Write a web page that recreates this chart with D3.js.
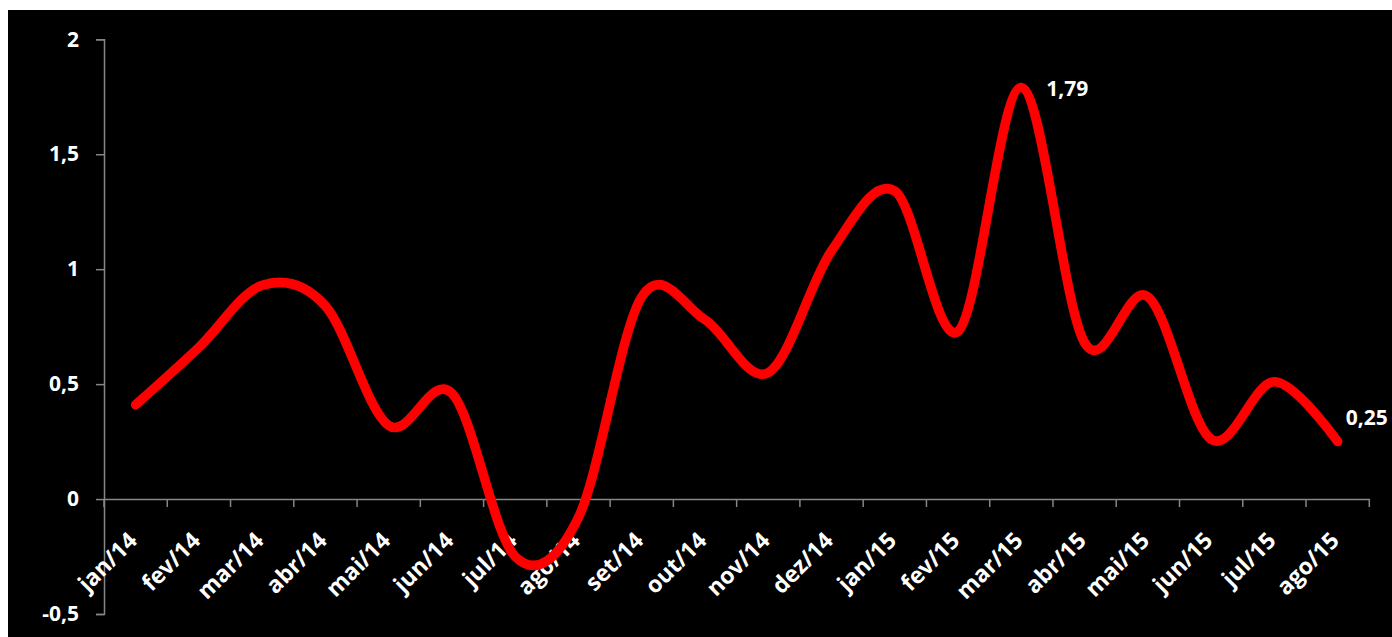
<!DOCTYPE html>
<html>
<head>
<meta charset="utf-8">
<script src="https://cdn.jsdelivr.net/npm/d3@7"></script>
<style>
  html, body { margin: 0; padding: 0; background: #ffffff; }
  svg { display: block; }
  text { font-family: "Open Sans", "DejaVu Sans", sans-serif; font-weight: bold; fill: #ffffff; }
</style>
</head>
<body>
<svg id="chart" width="1392" height="637"></svg>
<script>
const categories = ["jan/14","fev/14","mar/14","abr/14","mai/14","jun/14","jul/14","ago/14","set/14","out/14","nov/14","dez/14","jan/15","fev/15","mar/15","abr/15","mai/15","jun/15","jul/15","ago/15"];
const values = [0.41, 0.66, 0.93, 0.84, 0.32, 0.46, -0.25, -0.08, 0.88, 0.78, 0.55, 1.08, 1.34, 0.73, 1.79, 0.68, 0.88, 0.26, 0.51, 0.25];
const yTicks = [-0.5, 0, 0.5, 1, 1.5, 2];
const labelled = [{i: 14, text: "1,79"}, {i: 19, text: "0,25"}];

const svg = d3.select("#chart");
const W = 1392, H = 637;

svg.append("rect").attr("x", 8).attr("y", 10).attr("width", W - 8).attr("height", H - 10).attr("fill", "#000000");

const x = d3.scaleBand().domain(categories).range([104, 1369.3]);
const y = d3.scaleLinear().domain([-0.5, 2]).range([614, 39.3]);
const cx = d => x(d) + x.bandwidth() / 2;
const fmt = v => String(v).replace(".", ",");
const axisColor = "#868686";

// Y axis
const yAxis = svg.append("g").attr("transform", "translate(104,0)")
  .call(d3.axisLeft(y).tickValues(yTicks).tickSize(8).tickPadding(17).tickFormat(fmt));
yAxis.select(".domain").attr("stroke", axisColor).attr("stroke-width", 1.5);
yAxis.selectAll(".tick line").attr("stroke", axisColor).attr("stroke-width", 1.5);
yAxis.selectAll(".tick text").attr("fill", "#fff").style("font-size", "21px")
  .style("font-family", "'Open Sans', sans-serif").style("font-weight", "bold");

// X axis at zero
const xAxis = svg.append("g").attr("transform", `translate(0,${y(0)})`)
  .call(d3.axisBottom(x).tickSize(0).tickFormat(""));
xAxis.select(".domain").attr("stroke", axisColor).attr("stroke-width", 1.5);
xAxis.selectAll(".tick").remove();
const bounds = categories.map(c => x(c)).concat([x(categories[categories.length - 1]) + x.bandwidth()]);
xAxis.selectAll("line.bt").data(bounds).join("line").attr("class", "bt")
  .attr("x1", d => d).attr("x2", d => d).attr("y1", 0).attr("y2", 8)
  .attr("stroke", axisColor).attr("stroke-width", 1.5);

xAxis.selectAll("text.cat").data(categories).join("text").attr("class", "cat")
  .attr("text-anchor", "end")
  .attr("transform", d => `translate(${cx(d) + 3},43) rotate(-45)`)
  .style("font-size", "23px")
  .text(d => d);

// line
const line = d3.line()
  .x((d, i) => cx(categories[i]))
  .y(d => y(d))
  .curve(d3.curveCatmullRom.alpha(0));

svg.append("path").datum(values)
  .attr("d", line)
  .attr("fill", "none")
  .attr("stroke", "#ff0000")
  .attr("stroke-width", 9.5)
  .attr("stroke-linecap", "round")
  .attr("stroke-linejoin", "round");

// data labels
const offsets = {14: [25, 0], 19: [8, -25]};
svg.selectAll("text.dl").data(labelled).join("text").attr("class", "dl")
  .attr("x", d => cx(categories[d.i]) + offsets[d.i][0])
  .attr("y", d => y(values[d.i]) + offsets[d.i][1])
  .attr("dominant-baseline", "central")
  .style("font-size", "21px")
  .text(d => d.text);
</script>
</body>
</html>
